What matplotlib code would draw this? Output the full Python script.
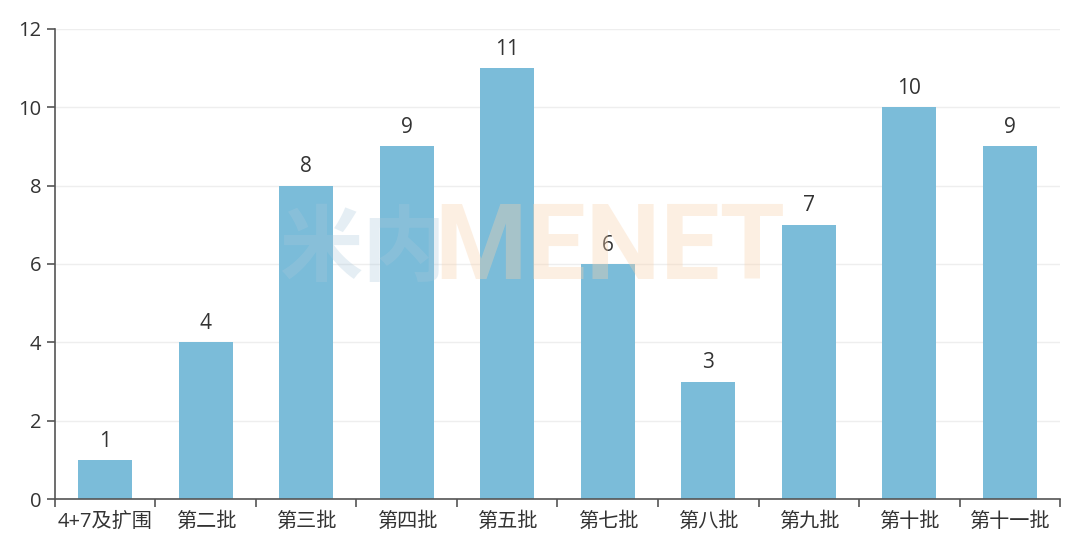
import numpy as np
import matplotlib
matplotlib.use('Agg')
import matplotlib.pyplot as plt

plt.rcParams['font.family'] = ['Open Sans', 'Noto Sans CJK SC', 'DejaVu Sans']

categories = ['4+7及扩围', '第二批', '第三批', '第四批', '第五批',
              '第七批', '第八批', '第九批', '第十批', '第十一批']
counts = [1, 4, 8, 9, 11, 6, 3, 7, 10, 9]
y_ticks = [0, 2, 4, 6, 8, 10, 12]

bar_color = '#7bbcd9'
text_color = '#333333'
axis_color = '#555555'

fig = plt.figure(figsize=(10.8, 5.45), dpi=100)
ax = fig.add_axes([0.0509, 0.0844, 0.9306, 0.8624])

x = np.arange(len(categories))
bars = ax.bar(x, counts, width=0.54, color=bar_color, zorder=2)

for xi, v in zip(x, counts):
    ax.annotate(str(v), (xi, v), xytext=(0, 6), textcoords='offset points',
                ha='center', va='bottom', fontsize=15, color=text_color)

ax.set_xlim(-0.5, len(categories) - 0.5)
ax.set_ylim(0, 12)
ax.set_yticks(y_ticks)
ax.set_yticklabels([str(t) for t in y_ticks], fontsize=14.5, color=text_color)
ax.set_xticks(x)
ax.set_xticklabels(categories, fontsize=14.5, color=text_color)
ax.tick_params(axis='x', length=0, pad=9)
ax.tick_params(axis='y', length=6, width=1.2, color=axis_color, pad=4)

# boundary ticks between categories
ax.set_xticks(np.arange(len(categories) + 1) - 0.5, minor=True)
ax.tick_params(axis='x', which='minor', length=6, width=1.2, color=axis_color)

ax.grid(axis='y', color='#eeeeee', linewidth=1, zorder=0)
ax.set_axisbelow(True)
for side in ['top', 'right']:
    ax.spines[side].set_visible(False)
for side in ['left', 'bottom']:
    ax.spines[side].set_color(axis_color)
    ax.spines[side].set_linewidth(1.2)

# watermark
fig.text(0.258, 0.541, '米内', fontsize=60, fontweight='bold', color='#a9c9dc',
         alpha=0.3, ha='left', va='center', zorder=10,
         family=['Noto Sans CJK SC'])
fig.text(0.402, 0.541, 'MENET', fontsize=76, fontweight='bold', color='#f9d2ad',
         alpha=0.35, ha='left', va='center', zorder=10,
         family=['Roboto'])

fig.savefig('out.png', dpi=100)
